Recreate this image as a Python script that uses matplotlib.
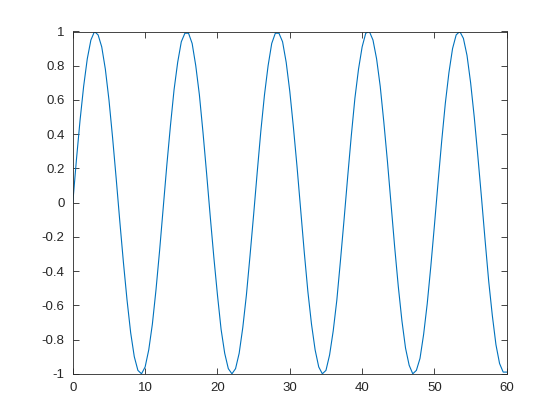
import numpy as np
import matplotlib
matplotlib.use("Agg")
import matplotlib.pyplot as plt

# x sampled every 0.5 from 0 to 60
x_vals = np.arange(0, 121) * 0.5

# y values
y_vals = [
    0.00, 0.25, 0.48, 0.68, 0.84, 0.95, 1.00, 0.98, 0.91, 0.78,
    0.60, 0.38, 0.14, -0.11, -0.35, -0.57, -0.76, -0.90, -0.98, -1.00,
    -0.96, -0.86, -0.71, -0.51, -0.28, -0.03, 0.22, 0.45, 0.66, 0.82,
    0.94, 0.99, 0.99, 0.93, 0.80, 0.63, 0.41, 0.17, -0.08, -0.32,
    -0.54, -0.74, -0.88, -0.97, -1.00, -0.97, -0.88, -0.73, -0.54, -0.31,
    -0.07, 0.18, 0.42, 0.63, 0.80, 0.93, 0.99, 0.99, 0.94, 0.82,
    0.65, 0.44, 0.21, -0.04, -0.29, -0.52, -0.71, -0.86, -0.96, -1.00,
    -0.98, -0.89, -0.75, -0.57, -0.34, -0.10, 0.15, 0.39, 0.61, 0.78,
    0.91, 0.99, 1.00, 0.95, 0.84, 0.68, 0.47, 0.24, -0.01, -0.26,
    -0.49, -0.69, -0.85, -0.95, -1.00, -0.98, -0.91, -0.77, -0.59, -0.37,
    -0.13, 0.12, 0.36, 0.58, 0.76, 0.90, 0.98, 1.00, 0.96, 0.86,
    0.70, 0.50, 0.27, 0.03, -0.22, -0.46, -0.66, -0.83, -0.94, -0.99,
    -0.99,
]

x_ticks = [0, 10, 20, 30, 40, 50, 60]
y_ticks = [-1, -0.8, -0.6, -0.4, -0.2, 0, 0.2, 0.4, 0.6, 0.8, 1]
y_labels = ["-1", "-0.8", "-0.6", "-0.4", "-0.2", "0", "0.2", "0.4", "0.6", "0.8", "1"]

plt.rcParams['font.family'] = ['Liberation Sans', 'DejaVu Sans']
plt.rcParams['axes.unicode_minus'] = False

fig = plt.figure(figsize=(5.6, 4.2), dpi=100)
ax = fig.add_axes([0.13, 0.11, 0.775, 0.815])

ax.plot(x_vals, y_vals, color='#0072BD', linewidth=0.8)

ax.set_xlim(0, 60)
ax.set_ylim(-1, 1)
ax.set_xticks(x_ticks)
ax.set_yticks(y_ticks)
ax.set_yticklabels(y_labels)

axis_color = '#262626'
for s in ax.spines.values():
    s.set_color(axis_color)
    s.set_linewidth(0.6)
ax.tick_params(direction='in', length=4, width=0.6, color=axis_color,
               labelcolor=axis_color, labelsize=9.5,
               top=True, right=True)
ax.tick_params(axis='x', pad=6)
ax.tick_params(axis='y', pad=6)

fig.savefig("out.png", dpi=100)
